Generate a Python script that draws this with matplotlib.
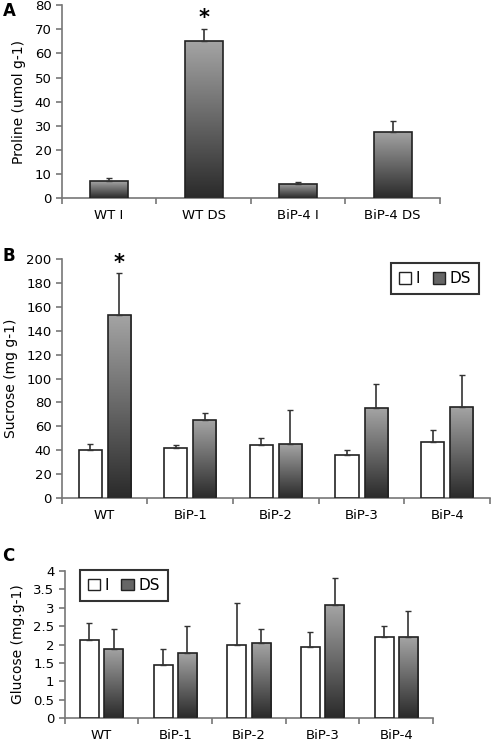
import numpy as np
import matplotlib
matplotlib.use("Agg")
from matplotlib import pyplot as plt
from matplotlib.patches import Patch

# panel A - proline
a_labels = ['WT I', 'WT DS', 'BiP-4 I', 'BiP-4 DS']
a_vals = [7.0, 65.0, 6.0, 27.5]
a_err = [1.3, 5.0, 0.7, 4.5]

# panels B and C
lines = ['WT', 'BiP-1', 'BiP-2', 'BiP-3', 'BiP-4']
suc_i = [40, 42, 44, 36, 47]
suc_i_err = [5, 2, 6, 4, 10]
suc_ds = [153, 65, 45, 75, 76]
suc_ds_err = [35, 6, 29, 20, 27]

glu_i = [2.12, 1.45, 2.0, 1.92, 2.2]
glu_i_err = [0.46, 0.43, 1.13, 0.41, 0.3]
glu_ds = [1.88, 1.76, 2.03, 3.07, 2.2]
glu_ds_err = [0.54, 0.74, 0.39, 0.73, 0.72]

plt.rcParams['font.family'] = 'DejaVu Sans'
plt.rcParams['font.size'] = 9.5

grad = np.linspace(0, 1, 256).reshape(-1, 1)
cmap = matplotlib.colors.LinearSegmentedColormap.from_list('g', ['#2a2a2a', '#a4a4a4'])


def gradient_bars(ax, bars):
    #paint a dark-bottom to light-top gradient inside each bar
    for b in bars:
        x0, y0 = b.get_x(), b.get_y()
        w, h = b.get_width(), b.get_height()
        im = ax.imshow(grad, cmap=cmap, aspect='auto', origin='lower',
                       extent=[x0, x0 + w, y0, y0 + h], zorder=2)
        im.set_clip_path(b)


def style_axis(ax, n, ymax, ystep):
    for s in ['top', 'right']:
        ax.spines[s].set_visible(False)
    for s in ['left', 'bottom']:
        ax.spines[s].set_color('#777777')
        ax.spines[s].set_linewidth(1.2)
    ax.set_xlim(-0.5, n - 0.5)
    ax.set_ylim(0, ymax)
    ax.set_yticks(np.arange(0, ymax + ystep / 2, ystep))
    ax.set_xticks(np.arange(-0.5, n, 1.0))
    ax.set_xticklabels([])
    ax.tick_params(axis='both', direction='out', color='#777777', width=1.2, length=4)
    ax.tick_params(axis='x', which='minor', length=0, pad=8)


def star(ax, x, y):
    ax.text(x, y, '*', ha='center', va='center', fontsize=15, fontweight='bold', clip_on=False)


fig = plt.figure(figsize=(4.91, 7.43), dpi=100)

#### A
axA = fig.add_axes([0.126, 0.7335, 0.77, 0.2595])
x = np.arange(len(a_labels))
bars = axA.bar(x, a_vals, width=0.4, facecolor='none', edgecolor='#222222', linewidth=1.2, zorder=3)
gradient_bars(axA, bars)
axA.errorbar(x, a_vals, yerr=[np.zeros(len(x)), a_err], fmt='none', ecolor='#333333',
             elinewidth=1.2, capsize=2.5, zorder=4)
style_axis(axA, len(a_labels), 80, 10)
axA.set_xticks(x, minor=True)
axA.set_xticklabels(a_labels, minor=True)
axA.set_ylabel('Proline (umol g-1)', fontsize=10, labelpad=6)
star(axA, 1, 74.5)
fig.text(0.005, 0.985, 'A', fontsize=12, fontweight='bold', va='center')

#### B and C share layout
def paired(ax, v_i, e_i, v_ds, e_ds, w):
    x = np.arange(len(lines))
    off = w / 2 + 0.035
    bi = ax.bar(x - off, v_i, width=w, facecolor='white', edgecolor='#222222', linewidth=1.2, zorder=3)
    bd = ax.bar(x + off, v_ds, width=w, facecolor='none', edgecolor='#222222', linewidth=1.2, zorder=3)
    gradient_bars(ax, bd)
    ax.errorbar(x - off, v_i, yerr=[np.zeros(len(x)), e_i], fmt='none', ecolor='#333333',
                elinewidth=1.2, capsize=2.5, zorder=4)
    ax.errorbar(x + off, v_ds, yerr=[np.zeros(len(x)), e_ds], fmt='none', ecolor='#333333',
                elinewidth=1.2, capsize=2.5, zorder=4)
    ax.set_xticks(x, minor=True)
    ax.set_xticklabels(lines, minor=True)
    return off


handles = [Patch(facecolor='white', edgecolor='#222222', label='I'),
           Patch(facecolor='#666666', edgecolor='#222222', label='DS')]
leg_kw = dict(ncol=2, fancybox=False, edgecolor='black', handlelength=0.8, handleheight=0.8,
              handletextpad=0.3, columnspacing=0.8, fontsize=11, borderpad=0.55, borderaxespad=0)

axB = fig.add_axes([0.126, 0.3297, 0.872, 0.3217])
style_axis(axB, len(lines), 200, 20)
offB = paired(axB, suc_i, suc_i_err, suc_ds, suc_ds_err, 0.27)
axB.set_ylabel('Sucrose (mg g-1)', fontsize=10, labelpad=6)
star(axB, offB, 197)
legB = axB.legend(handles=handles, loc='upper right', bbox_to_anchor=(0.975, 0.985), **leg_kw)
legB.get_frame().set_linewidth(1.5)
fig.text(0.005, 0.655, 'B', fontsize=12, fontweight='bold', va='center')

axC = fig.add_axes([0.132, 0.0336, 0.75, 0.1979])
style_axis(axC, len(lines), 4, 0.5)
axC.set_yticklabels(['0', '0.5', '1', '1.5', '2', '2.5', '3', '3.5', '4'])
paired(axC, glu_i, glu_i_err, glu_ds, glu_ds_err, 0.26)
axC.set_ylabel('Glucose (mg.g-1)', fontsize=10, labelpad=6)
legC = axC.legend(handles=handles, loc='upper left', bbox_to_anchor=(0.04, 1.01), **leg_kw)
legC.get_frame().set_linewidth(1.5)
fig.text(0.005, 0.252, 'C', fontsize=12, fontweight='bold', va='center')

fig.savefig('out.png', dpi=100)
